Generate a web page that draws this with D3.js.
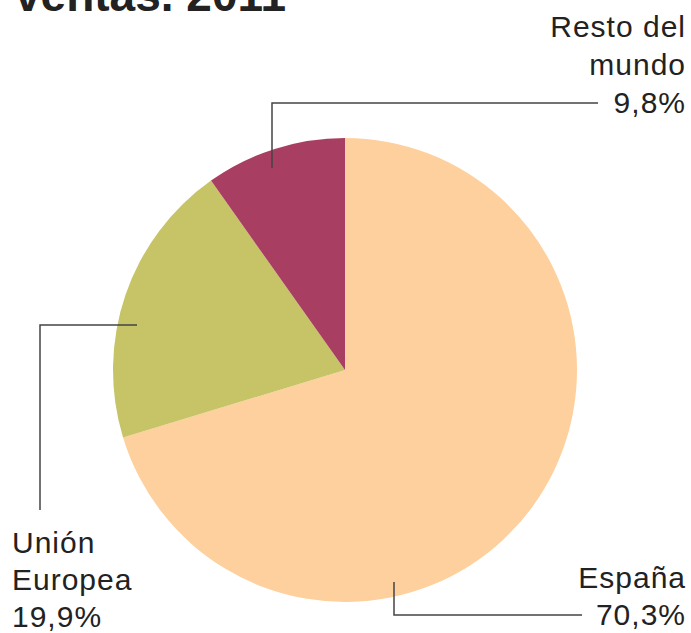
<!DOCTYPE html>
<html><head><meta charset="utf-8">
<script src="https://cdn.jsdelivr.net/npm/d3@7"></script>
<style>body{margin:0;background:#fff;} svg{display:block;}</style>
</head><body>
<svg id="c" width="691" height="633"></svg>
<script>
const categories = ["España", "Unión Europea", "Resto del mundo"];
const values = [70.3, 19.9, 9.8];
const valueLabels = ["70,3%", "19,9%", "9,8%"];
const colors = ["#FDD09E", "#C6C466", "#A83F62"];
const title = "ventas. 2011";

const svg = d3.select("#c");
const cx = 345, cy = 370, r = 232;
const font = "'Liberation Sans', Arial, sans-serif";

svg.append("text").attr("x", 15).attr("y", 11)
  .attr("font-family", font).attr("font-weight", "bold").attr("font-size", 46)
  .attr("fill", "#222").text(title);

const pie = d3.pie().sort(null).value(d => d)(values);
const arc = d3.arc().innerRadius(0).outerRadius(r);
const g = svg.append("g").attr("transform", `translate(${cx},${cy})`);
g.selectAll("path").data(pie).join("path")
  .attr("d", arc).attr("fill", (d, i) => colors[i]);

// leader lines
const lines = [
  [[394, 582], [394, 615], [582, 615]],
  [[137, 325], [40, 325], [40, 510]],
  [[272, 168], [272, 103], [598, 103]]
];
svg.selectAll("path.lead").data(lines).join("path").attr("class", "lead")
  .attr("d", d => d3.line()(d)).attr("fill", "none")
  .attr("stroke", "#444").attr("stroke-width", 1.5);

const labels = [
  {x: 686, anchor: "end", ys: [588, 625], lines: ["España", valueLabels[0]]},
  {x: 12, anchor: "start", ys: [553, 590, 627], lines: ["Unión", "Europea", valueLabels[1]]},
  {x: 686, anchor: "end", ys: [37, 75, 113], lines: ["Resto del", "mundo", valueLabels[2]]}
];
labels.forEach(l => {
  l.lines.forEach((t, i) => {
    svg.append("text").attr("x", l.x).attr("y", l.ys[i])
      .attr("text-anchor", l.anchor).attr("font-family", font)
      .attr("font-size", 30).attr("letter-spacing", 1)
      .attr("fill", "#222").text(t);
  });
});
</script>
</body></html>
